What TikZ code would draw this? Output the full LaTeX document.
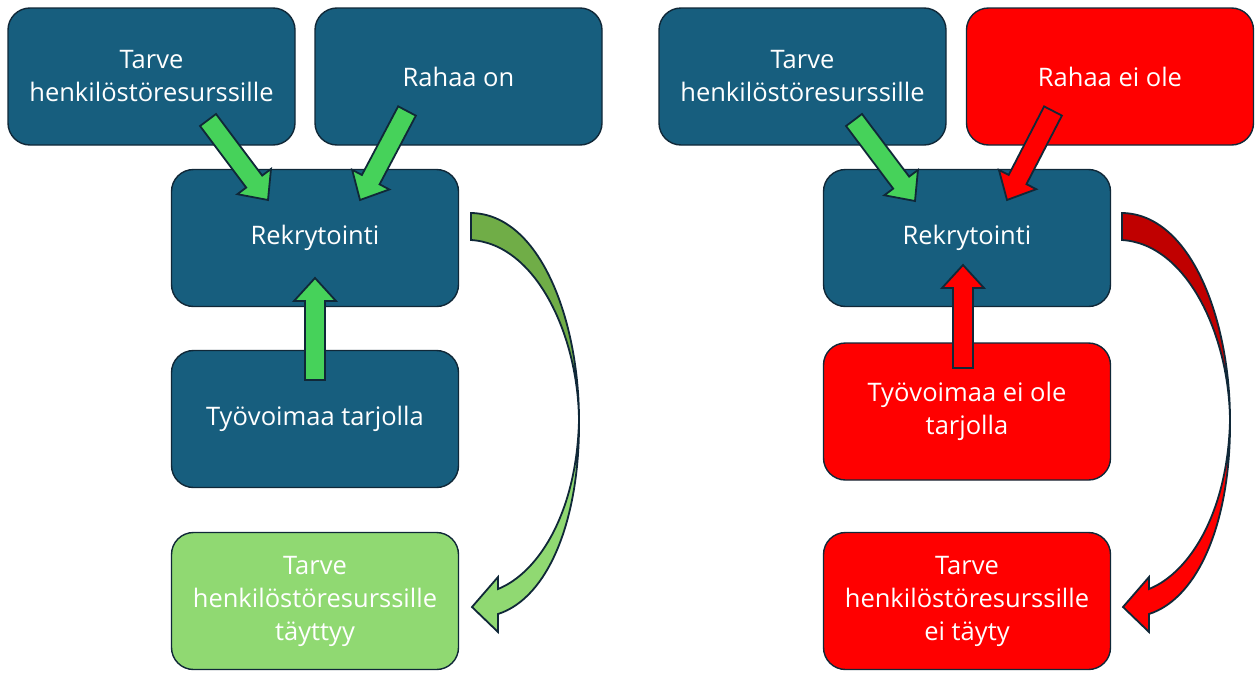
\documentclass[tikz,border=0pt]{standalone}
\usepackage{fontspec}
\setmainfont{Open Sans}
\usetikzlibrary{calc}

\definecolor{boxblue}{RGB}{23,94,126}
\definecolor{edge}{RGB}{16,40,56}
\definecolor{arrowgreen}{RGB}{70,210,90}
\definecolor{lightgreen}{RGB}{144,217,114}
\definecolor{darkgreen}{RGB}{112,173,71}
\definecolor{brightred}{RGB}{255,0,0}
\definecolor{darkred}{RGB}{192,0,0}

\tikzset{
  card/.style={draw=edge, line width=1.4pt, rounded corners=22pt,
    minimum width=287pt, minimum height=137pt, inner sep=0pt,
    text=white, align=center, font=\fontsize{25.5}{33}\selectfont},
  bluecard/.style={card, fill=boxblue},
  redcard/.style={card, fill=brightred},
  greencard/.style={card, fill=lightgreen},
  blockline/.style={draw=edge, line width=1.8pt, line join=miter},
}

% straight block arrow from #1 to the tip #2, filled with #3
\newcommand\blockarrow[3]{%
  \path let \p1=(#1), \p2=(#2) in \pgfextra{%
    \pgfmathsetmacro\bal{veclen(\x2-\x1,\y2-\y1)}%
    \pgfmathsetmacro\baa{atan2(\y2-\y1,\x2-\x1)}%
    \xdef\arrlen{\bal}\xdef\arrang{\baa}};
  \begin{scope}[shift={(#1)}, rotate=\arrang]
    \draw[blockline, fill=#3]
      (0pt,-10pt) -- ({\arrlen pt-23pt},-10pt) -- ({\arrlen pt-23pt},-21pt)
      -- (\arrlen pt,0pt) -- ({\arrlen pt-23pt},21pt) -- ({\arrlen pt-23pt},10pt)
      -- (0pt,10pt) -- cycle;
  \end{scope}}

% curved return arrow: dark back face and lighter front face with head
\newcommand\curvedarrow[2]{%
  \fill[#1, blockline]
    (471,213) .. controls (540,214) and (579,320) .. (579,420)
    .. controls (578,335) and (536,244) .. (471,240) -- cycle;
  \fill[#2, blockline]
    (579,420) .. controls (580,520) and (548,598) .. (498,614)
    -- (498,632) -- (472,607) -- (498,577) -- (498,589)
    .. controls (540,572) and (577,510) .. (579,420) -- cycle;}

\begin{document}
\begin{tikzpicture}[x=1pt, y=-1pt]
  \useasboundingbox (0,0) rectangle (1255,672);

  % left scenario
  \node[bluecard]  (needL)  at (151.5,76.5)  {Tarve\\henkilöstöresurssille};
  \node[bluecard]  (money)  at (458.5,76.5)  {Rahaa on};
  \node[bluecard]  (recL)   at (315,238)     {Rekrytointi};
  \node[bluecard]  (labour) at (315,419)     {Työvoimaa tarjolla};
  \node[greencard] (metL)   at (315,601)     {Tarve\\henkilöstöresurssille\\täyttyy};

  \coordinate (a1s) at (208,120);  \coordinate (a1t) at (268,200);
  \coordinate (a2s) at (407,111);  \coordinate (a2t) at (360,200);
  \coordinate (a3s) at (315,380);  \coordinate (a3t) at (315,278);
  \blockarrow{a1s}{a1t}{arrowgreen}
  \blockarrow{a2s}{a2t}{arrowgreen}
  \blockarrow{a3s}{a3t}{arrowgreen}
  \curvedarrow{darkgreen}{lightgreen}

  % right scenario
  \node[bluecard] (needR)    at (802.5,76.5)  {Tarve\\henkilöstöresurssille};
  \node[redcard]  (nomoney)  at (1110,76.5)   {Rahaa ei ole};
  \node[bluecard] (recR)     at (967,238)     {Rekrytointi};
  \node[redcard]  (nolabour) at (967,411.5)   {Työvoimaa ei ole\\tarjolla};
  \node[redcard]  (unmetR)   at (967,601)     {Tarve\\henkilöstöresurssille\\ei täyty};

  \coordinate (b1s) at (854,120);   \coordinate (b1t) at (915,201);
  \coordinate (b2s) at (1053,111);  \coordinate (b2t) at (1007,200);
  \coordinate (b3s) at (963,368);   \coordinate (b3t) at (963,265);
  \blockarrow{b1s}{b1t}{arrowgreen}
  \blockarrow{b2s}{b2t}{brightred}
  \blockarrow{b3s}{b3t}{brightred}
  \begin{scope}[xshift=651pt]
    \curvedarrow{darkred}{brightred}
  \end{scope}
\end{tikzpicture}
\end{document}
